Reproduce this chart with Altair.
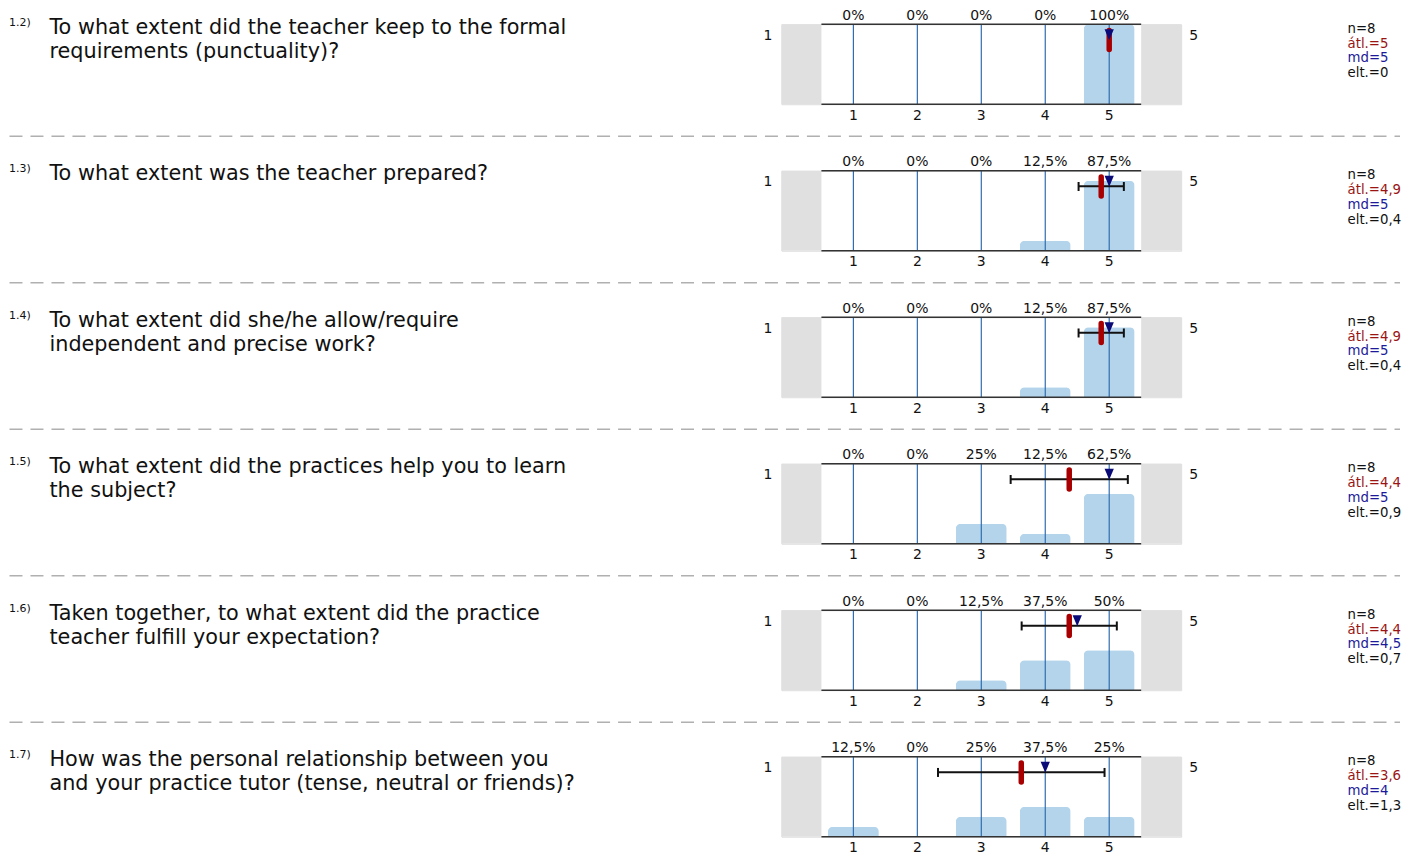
import altair as alt
import pandas as pd

# ---------------- data ----------------
q_numbers = ["1.2)", "1.3)", "1.4)", "1.5)", "1.6)", "1.7)"]
q_texts = [
    "To what extent did the teacher keep to the formal\nrequirements (punctuality)?",
    "To what extent was the teacher prepared?",
    "To what extent did she/he allow/require\nindependent and precise work?",
    "To what extent did the practices help you to learn\nthe subject?",
    "Taken together, to what extent did the practice\nteacher fulfill your expectation?",
    "How was the personal relationship between you\nand your practice tutor (tense, neutral or friends)?",
]
scale_points = [1, 2, 3, 4, 5]
percentages = [
    [0, 0, 0, 0, 100],
    [0, 0, 0, 12.5, 87.5],
    [0, 0, 0, 12.5, 87.5],
    [0, 0, 25, 12.5, 62.5],
    [0, 0, 12.5, 37.5, 50],
    [12.5, 0, 25, 37.5, 25],
]
n_values = [8, 8, 8, 8, 8, 8]
means = [5.0, 4.875, 4.875, 4.375, 4.375, 3.625]
medians = [5, 5, 5, 5, 4.5, 4]
std_devs = [0.0, 0.354, 0.354, 0.916, 0.744, 1.302]
mean_labels = ["5", "4,9", "4,9", "4,4", "4,4", "3,6"]
median_labels = ["5", "5", "5", "5", "4,5", "4"]
sd_labels = ["0", "0,4", "0,4", "0,9", "0,7", "1,3"]
end_labels = ["1", "5"]

# ---------------- style ----------------
FONT = "DejaVu Sans"
X_MIN, X_MAX = -0.125, 6.125
W, H = 400, 80
xscale = alt.Scale(domain=[X_MIN, X_MAX], nice=False, zero=False, padding=0)
yscale = alt.Scale(domain=[0, 100], nice=False, padding=0)
TXT = "#111111"


def fmt_pct(p):
    return f"{p:g}".replace(".", ",") + "%"


def X(field=None, datum=None):
    if datum is not None:
        return alt.X(datum=datum, scale=xscale, axis=None)
    return alt.X(field, scale=xscale, axis=None)


def row_chart(i, last):
    bars_df = pd.DataFrame({
        "v": scale_points,
        "pct": percentages[i],
        "label": [fmt_pct(p) for p in percentages[i]],
    })
    stat_df = pd.DataFrame({
        "mean": [means[i]], "median": [medians[i]], "sd": [std_devs[i]],
    })
    one = pd.DataFrame({"k": [0]})

    layers = []
    # grey end boxes
    layers.append(alt.Chart(one).mark_rect(color="#e0e0e0").encode(
        x=X(datum=X_MIN), x2=alt.X2(datum=0.5), y=alt.value(0), y2=alt.value(H)))
    layers.append(alt.Chart(one).mark_rect(color="#e0e0e0").encode(
        x=X(datum=5.5), x2=alt.X2(datum=X_MAX), y=alt.value(0), y2=alt.value(H)))
    # bars
    layers.append(alt.Chart(bars_df).transform_filter("datum.pct > 0").mark_bar(
        size=51, color="#b4d4ec", cornerRadiusTopLeft=5, cornerRadiusTopRight=5
    ).encode(x=X("v:Q"), y=alt.Y("pct:Q", scale=yscale, axis=None)))
    # vertical blue lines
    layers.append(alt.Chart(bars_df).mark_rule(color="#2f6cb0", strokeWidth=1.2).encode(
        x=X("v:Q"), y=alt.value(0), y2=alt.value(H)))
    # top / bottom frame lines
    for yy in (0, H):
        layers.append(alt.Chart(one).mark_rule(color="#333333", strokeWidth=1.5).encode(
            x=X(datum=0.5), x2=alt.X2(datum=5.5), y=alt.value(yy)))
    # error bar
    if std_devs[i] > 0:
        eb = alt.Chart(stat_df).transform_calculate(
            lo="datum.mean - datum.sd", hi="datum.mean + datum.sd")
        layers.append(eb.mark_rule(color="#111111", strokeWidth=2).encode(
            x=X("lo:Q"), x2="hi:Q", y=alt.value(15.5)))
        for f in ("lo:Q", "hi:Q"):
            layers.append(eb.mark_rule(color="#111111", strokeWidth=2).encode(
                x=X(f), y=alt.value(11.2), y2=alt.value(20.2)))
    # mean marker
    layers.append(alt.Chart(stat_df).mark_rule(
        color="#a80000", strokeWidth=5.5, strokeCap="round").encode(
        x=X("mean:Q"), y=alt.value(6.2), y2=alt.value(25.3)))
    # median marker
    layers.append(alt.Chart(stat_df).mark_point(
        shape="M-1,-1.2L1,-1.2L0,1.2Z", filled=True, size=86, color="#0a0a78", opacity=1
    ).encode(x=X("median:Q"), y=alt.value(10.5)))
    # percent labels
    layers.append(alt.Chart(bars_df).mark_text(
        font=FONT, fontSize=14, color=TXT, baseline="alphabetic", dy=-4.5
    ).encode(x=X("v:Q"), y=alt.value(0), text="label:N"))
    # scale point labels (below)
    layers.append(alt.Chart(bars_df).mark_text(
        font=FONT, fontSize=14, color=TXT, baseline="alphabetic"
    ).encode(x=X("v:Q"), y=alt.value(H + 15.5), text=alt.Text("v:Q", format="d")))
    # end labels 1 / 5
    ends = pd.DataFrame({"t": end_labels})
    layers.append(alt.Chart(ends.iloc[[0]]).mark_text(
        font=FONT, fontSize=14, color=TXT, baseline="alphabetic", align="right", dx=-9
    ).encode(x=X(datum=X_MIN), y=alt.value(15.6), text="t:N"))
    layers.append(alt.Chart(ends.iloc[[1]]).mark_text(
        font=FONT, fontSize=14, color=TXT, baseline="alphabetic", align="left", dx=8
    ).encode(x=X(datum=X_MAX), y=alt.value(15.6), text="t:N"))
    # stats text
    stats = [
        (f"n={n_values[i]}", TXT),
        (f"átl.={mean_labels[i]}", "#9a1414"),
        (f"md={median_labels[i]}", "#1a1a9a"),
        (f"elt.={sd_labels[i]}", TXT),
    ]
    for j, (s, c) in enumerate(stats):
        layers.append(alt.Chart(pd.DataFrame({"t": [s]})).mark_text(
            font=FONT, fontSize=13.3, color=c, baseline="alphabetic", align="left"
        ).encode(x=alt.value(566.5), y=alt.value(8.5 + 14.8 * j), text="t:N"))
    # question number and text
    layers.append(alt.Chart(pd.DataFrame({"t": [q_numbers[i]]})).mark_text(
        font=FONT, fontSize=11, color=TXT, baseline="alphabetic", align="left"
    ).encode(x=alt.value(-773), y=alt.value(1.7), text="t:N"))
    layers.append(alt.Chart(pd.DataFrame({"t": [q_texts[i]]})).mark_text(
        font=FONT, fontSize=20.8, color=TXT, baseline="alphabetic", align="left",
        lineBreak="\n", lineHeight=24
    ).encode(x=alt.value(-732.5), y=alt.value(9.7), text="t:N"))
    # separator
    if not last:
        layers.append(alt.Chart(one).mark_rule(
            color="#b0b0b0", strokeWidth=1.6, strokeDash=[13, 8]
        ).encode(x=alt.value(-772.5), x2=alt.value(619), y=alt.value(112)))

    return alt.layer(*layers).properties(width=W, height=H)


rows = [row_chart(i, i == len(q_numbers) - 1) for i in range(len(q_numbers))]

chart = alt.vconcat(*rows, spacing=66.6, bounds="flush").properties(
    padding={"left": 0, "right": 0, "top": 0, "bottom": 0}
).configure_view(stroke=None).configure(font=FONT)

chart.save("out.html", embed_options={"renderer": "svg", "actions": False})
